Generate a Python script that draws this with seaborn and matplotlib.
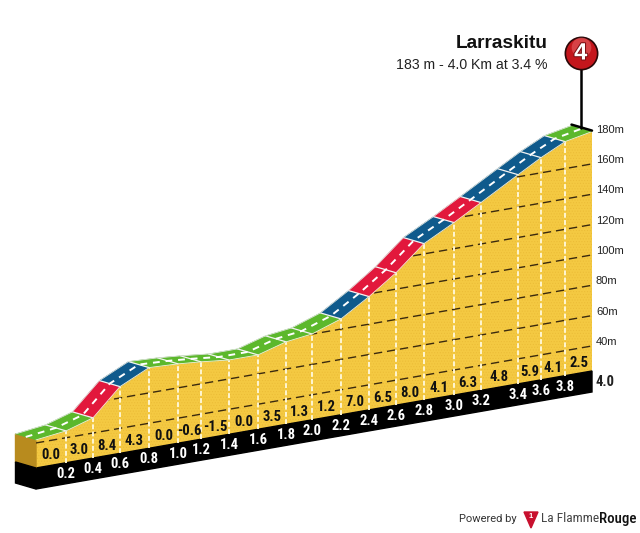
import numpy as np
import seaborn as sns
import matplotlib
matplotlib.use("Agg")
import matplotlib.pyplot as plt
import matplotlib.patheffects as pe

# profile, one point per section border
profile_km = [0.0, 0.216, 0.41, 0.604, 0.813, 1.022, 1.187, 1.388, 1.597, 1.799, 1.986,
              2.194, 2.396, 2.59, 2.791, 3.007, 3.201, 3.468, 3.633, 3.806, 4.0]
profile_elev = [42.0, 44.5, 50.0, 67.5, 76.7, 75.8, 74.5, 72.5, 72.5, 77.9, 80.1,
                86.7, 98.2, 110.8, 126.8, 137.2, 147.3, 161.4, 170.0, 177.8, 181.3]
grades = ["0.0", "3.0", "8.4", "4.3", "0.0", "-0.6", "-1.5", "0.0", "3.5", "1.3",
          "1.2", "7.0", "6.5", "8.0", "4.1", "6.3", "4.8", "5.9", "4.1", "2.5"]
section_class = ["g", "g", "r", "b", "g", "g", "g", "g", "g", "g",
                 "g", "b", "r", "r", "b", "r", "b", "b", "b", "g"]
km_labels = ["0.2", "0.4", "0.6", "0.8", "1.0", "1.2", "1.4", "1.6", "1.8", "2.0",
             "2.2", "2.4", "2.6", "2.8", "3.0", "3.2", "3.4", "3.6", "3.8"]
grid_elev = [40, 60, 80, 100, 120, 140, 160]
elev_labels = ["40m", "60m", "80m", "100m", "120m", "140m", "160m", "180m"]
elev_label_pos = [40, 60, 80, 100, 120, 140, 160, 180]

# oblique view, pixels of the 640x533 image
X0, Y0 = 36, 468
PX_PER_KM = 139
SLOPE = 0.1745
PX_PER_M = 1.517
BASE_ELEV = 23.5
DEPTH = (-20.5, -6)
BAND = 21


def project(km, elev, depth=0.0):
    km = np.asarray(km, dtype=float)
    elev = np.asarray(elev, dtype=float)
    x = X0 + PX_PER_KM * km + depth * DEPTH[0]
    y = Y0 - SLOPE * PX_PER_KM * km - (elev - BASE_ELEV) * PX_PER_M + depth * DEPTH[1]
    return x, y


sns.set_theme(style="white")
plt.rcParams["font.family"] = ["Liberation Sans", "DejaVu Sans"]
narrow = "Roboto Condensed"
colors = {"g": "#5CB82C", "r": "#E2183C", "b": "#0F5A8C"}
YELLOW = "#F4C942"

fig = plt.figure(figsize=(6.4, 5.33), dpi=100)
ax = fig.add_axes([0, 0, 1, 1])

km = np.array(profile_km)
elev = np.array(profile_elev)
base = np.full_like(km, BASE_ELEV)

# yellow front face
fx, fy = project(km, elev)
bx, by = project(km, base)
plt.rcParams["hatch.linewidth"] = 0.4
face = ax.fill(np.r_[fx, bx[::-1]], np.r_[fy, by[::-1]], facecolor=YELLOW,
               edgecolor="#EBBB36", hatch="......", linewidth=0, zorder=1)[0]

# black band under the face
ax.fill(np.r_[bx, bx[::-1]], np.r_[by, by[::-1] + BAND], color="black", zorder=1)

# left side of the block
sx0, sy0 = project(km[:1], elev[:1], 1)
sx1, sy1 = project(km[:1], base[:1], 1)
ax.fill([sx0[0], fx[0], bx[0], sx1[0]], [sy0[0], fy[0], by[0], sy1[0]], color="#B88B1E", zorder=1)
ax.fill([sx1[0], bx[0], bx[0], sx1[0]], [sy1[0], by[0], by[0] + BAND, sy1[0] + BAND],
        color="black", zorder=1)

# dashed height lines, only inside the face
for g in grid_elev:
    gx, gy = project([0, 4.0], [g, g])
    sns.lineplot(x=gx, y=gy, ax=ax, color="#3B2A0E", linewidth=1.0, sort=False,
                 estimator=None, zorder=2)
    ax.lines[-1].set_dashes((6, 3.5))
    ax.lines[-1].set_clip_path(face)

# white dashed km lines
for i in range(1, len(km) - 1):
    sns.lineplot(x=[bx[i], fx[i]], y=[by[i], fy[i]], ax=ax, color="#FFF6D2", linewidth=1.4,
                 sort=False, estimator=None, zorder=2)
    ax.lines[-1].set_dashes((2.5, 1.2))

# road sections
backx, backy = project(km, elev, 1)
for i, c in enumerate(section_class):
    ax.fill([fx[i], fx[i + 1], backx[i + 1], backx[i]], [fy[i], fy[i + 1], backy[i + 1], backy[i]],
            facecolor=colors[c], edgecolor=colors[c], linewidth=0.4, zorder=3)
    if i > 0:
        ax.plot([fx[i], backx[i]], [fy[i], backy[i]], color="#F2F2F2", linewidth=0.9, zorder=4)
ax.plot(fx, fy, color="#F5EFD8", linewidth=0.6, zorder=4)
ax.plot(backx, backy, color="#DDE3DD", linewidth=0.6, zorder=4)

# road centre line
cx, cy = project(km, elev, 0.5)
sns.lineplot(x=cx, y=cy, ax=ax, color="white", linewidth=1.4, sort=False, estimator=None, zorder=5)
ax.lines[-1].set_dashes((3.5, 3))

# labels on the face and on the band
for i, g in enumerate(grades):
    tx = (bx[i] + bx[i + 1]) / 2
    ty = (by[i] + by[i + 1]) / 2 - 10
    ax.text(tx, ty, g, ha="center", va="center", fontsize=10.5, fontweight="bold",
            family=narrow, color="#111111", zorder=6)
for i, lab in enumerate(km_labels):
    ax.text(bx[i + 1], by[i + 1] + 11, lab, ha="center", va="center", fontsize=10.5, fontweight="bold",
            family=narrow, color="white", zorder=6)

# heights at the right edge
ex, ey = project([4.0], [BASE_ELEV])
ax.text(ex[0] + 4, ey[0] + 11, "4.0", ha="left", va="center", fontsize=10.5, fontweight="bold",
        family=narrow, color="#222222")
for lab, e in zip(elev_labels, elev_label_pos):
    lx, ly = project([4.0], [e])
    ax.text(lx[0] + 4, ly[0] - 4, lab, ha="left", va="center", fontsize=8, color="#222222")

# summit marker
sumx, sumy = project([4.0], [181.3], 0.55)
sumx0, sumy0 = project([4.0], [181.3], 1)
sumx1, sumy1 = project([4.0], [181.3], 0)
badge_y = 53
sns.lineplot(x=[sumx[0], sumx[0]], y=[sumy[0], badge_y], ax=ax, color="black", linewidth=1.8,
             sort=False, estimator=None, zorder=6)
ax.plot([sumx0[0], sumx1[0]], [sumy0[0] - 1, sumy1[0] - 1], color="black", linewidth=1.8, zorder=6)
ax.scatter(sumx, [badge_y], s=540, color="#C4161C", edgecolor="#2A0808", linewidth=1.2, zorder=7)
ax.scatter(sumx, [badge_y - 6], s=200, color="#E8686A", linewidth=0, marker="o", alpha=0.55, zorder=7)
ax.text(sumx[0], badge_y, "4", ha="center", va="center", fontsize=17, fontweight="bold",
        color="white", zorder=8, path_effects=[pe.withStroke(linewidth=1.5, foreground="#7A1014")])

# title
ax.text(548, 44, "Larraskitu", ha="right", va="center", fontsize=13.7, fontweight="bold", color="#111111")
ax.text(548, 65, "183 m - 4.0 Km at 3.4 %", ha="right", va="center", fontsize=10.2, color="#222222")

# logo
ax.text(459, 519, "Powered by", ha="left", va="center", fontsize=8, family="Roboto", color="#333333")
ax.fill([524, 538, 531], [512, 512, 528], color="#C8102E", zorder=2)
ax.text(531, 517, "1", ha="center", va="center", fontsize=5.5, fontweight="bold", color="white", zorder=3)
ax.text(541, 519, "La Flamme", ha="left", va="center", fontsize=9.6, family=narrow, color="#444444")
ax.text(636, 519, "Rouge", ha="right", va="center", fontsize=10.8, family=narrow, fontweight="medium", color="#111111")

ax.set_xlim(0, 640)
ax.set_ylim(533, 0)
ax.axis("off")
fig.savefig("out.png", dpi=100, facecolor="white")
